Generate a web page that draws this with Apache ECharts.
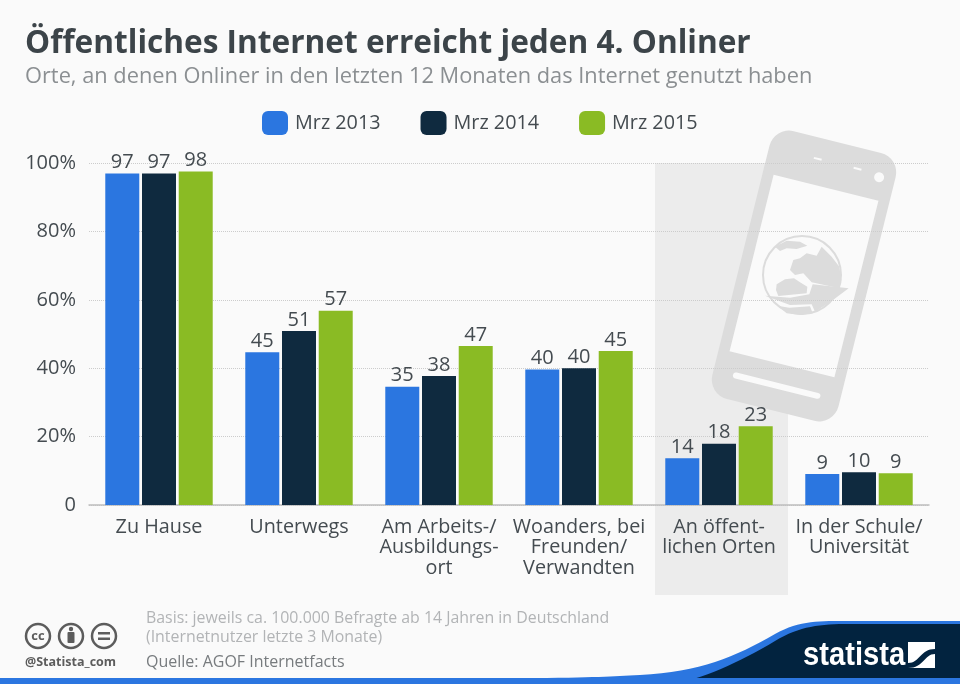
<!DOCTYPE html>
<html>
<head>
<meta charset="utf-8">
<script src="https://cdn.jsdelivr.net/npm/echarts@6/dist/echarts.min.js"></script>
<style>
html,body{margin:0;padding:0;background:#fafafa;}
#chart{width:960px;height:684px;}
</style>
</head>
<body>
<div id="chart"></div>
<script>
const categories=['Zu Hause','Unterwegs','Am Arbeits-/\nAusbildungs-\nort','Woanders, bei\nFreunden/\nVerwandten','An öffent-\nlichen Orten','In der Schule/\nUniversität'];
const yTicks=[0,20,40,60,80,100];
const legendNames=['Mrz 2013','Mrz 2014','Mrz 2015'];
const values2013=[96.9,44.7,34.6,39.6,13.7,9.1];
const values2014=[96.9,50.9,37.7,40,17.9,9.6];
const values2015=[97.5,56.8,46.5,45,23,9.3];
const colors=['#2b76e0','#0f2a3f','#8abb24'];
const textColor='#444b50';
const FONT='"Open Sans"';

const chart=echarts.init(document.getElementById('chart'));

function makeSeries(name,data,color){
	return {
		name:name,
		type:'bar',
		data:data,
		barWidth:34,
		barGap:'8%',
		itemStyle:{color:color},
		label:{
			show:true,
			position:'top',
			distance:1,
			fontFamily:FONT,
			fontSize:20,
			color:textColor,
			formatter:(p)=>Math.round(p.value)
		}
	}
}

function txt(x,y,text,size,color,weight){
	return {type:'text',x:x,y:y,style:{text:text,fontFamily:FONT,fontSize:size,fill:color,fontWeight:weight||'normal'}}
}

// samples a run of cubic curves to polygon points, graphic has no path type
function curve(start,segs){
	let pts=[start],p=start;
	segs.forEach((s)=>{
		for(let i=1;i<=16;i++){
			let t=i/16,u=1-t;
			pts.push([
				u*u*u*p[0]+3*u*u*t*s[0]+3*u*t*t*s[2]+t*t*t*s[4],
				u*u*u*p[1]+3*u*u*t*s[1]+3*u*t*t*s[3]+t*t*t*s[5]
			]);
		}
		p=[s[4],s[5]];
	});
	return pts;
}

function poly(points,fill){
	return {type:'polygon',z:-1,shape:{points:points},style:{fill:fill}}
}

// phone and globe behind the grid lines
const phone={
	type:'group',x:804,y:276,rotation:-14*Math.PI/180,z:-1,
	children:[
		{type:'rect',z:-1,shape:{x:-65,y:-138,width:130,height:276,r:20},style:{fill:'#dcdcdc'}},
		{type:'rect',z:-1,shape:{x:-54,y:-91,width:108,height:182},style:{fill:'#fafafa'}},
		{type:'rect',z:-1,shape:{x:-45,y:110,width:90,height:6,r:3},style:{fill:'#fafafa'}},
		{type:'circle',z:-1,shape:{cx:49,cy:-114,r:5},style:{fill:'#fafafa'}},
		{type:'rect',z:-1,shape:{x:22,y:-118,width:8,height:2},style:{fill:'#fafafa'}},
		{type:'rect',z:-1,shape:{x:-19,y:-118,width:8,height:2},style:{fill:'#fafafa'}}
	]
};
// globe shapes are in 3x crop units
const globe={
	type:'group',x:750,y:225,scaleX:1/3,scaleY:1/3,z:-1,
	children:[
		{type:'circle',z:-1,shape:{cx:156,cy:150,r:117},style:{fill:'#fafafa',stroke:'#dcdcdc',lineWidth:6}},
		poly([[75,65],[110,47],[150,50],[172,62],[140,72],[110,70],[90,78]],'#dcdcdc'),
		poly([[120,135],[130,105],[150,100],[170,85],[200,92],[215,65],[245,95],[268,125],[274,165],[268,190],[185,172],[160,145],[135,150]],'#dcdcdc'),
		poly([[80,178],[105,163],[132,160],[150,172],[172,185],[170,205],[85,213],[78,195]],'#dcdcdc'),
		poly([[45,212],[120,218],[178,208],[188,178],[296,190],[245,228],[195,260],[185,238],[120,240]],'#dcdcdc'),
		poly([[82,242],[118,248],[180,244],[188,265],[150,270],[110,265]],'#dcdcdc')
	]
};

// footer wave and logo
const footer=[
	{type:'rect',shape:{x:0,y:678,width:960,height:6},style:{fill:'#2b76e0'}},
	poly(curve([520,678],[[600,678,610,676,640,675],[700,672,735,657,775,634],[800,620,820,621,850,621]]).concat([[960,621],[960,684],[520,684]]),'#2b76e0'),
	poly(curve([672,684],[[700,680,740,662,775,641],[800,626,820,624,850,624]]).concat([[960,624],[960,684]]),'#02233f'),
	{type:'text',x:803,y:639,scaleX:0.885,style:{text:'statista',fontFamily:'"Liberation Sans"',fontSize:33,fontWeight:'bold',fill:'#fff'}},
	poly([[908,642],[935,642],[935,668],[908,668]],'#fff'),
	poly(curve([908,663],[[920,663,920,649,935,649]]).concat(curve([935,654],[[924,654,924,668,908,668]])),'#02233f')
];

// cc badges
const badges=[
	{type:'circle',shape:{cx:38,cy:636,r:12},style:{fill:'#fafafa',stroke:'#5c5c5c',lineWidth:2.5}},
	{type:'circle',shape:{cx:71,cy:636,r:12},style:{fill:'#fafafa',stroke:'#5c5c5c',lineWidth:2.5}},
	{type:'circle',shape:{cx:104,cy:636,r:12},style:{fill:'#fafafa',stroke:'#5c5c5c',lineWidth:2.5}},
	{type:'text',x:38,y:636,style:{text:'cc',fontFamily:FONT,fontWeight:'bold',fontSize:13,fill:'#5c5c5c',align:'center',verticalAlign:'middle'}},
	{type:'circle',shape:{cx:71,cy:629,r:2.2},style:{fill:'#5c5c5c'}},
	{type:'rect',shape:{x:67.5,y:632,width:7,height:11,r:1},style:{fill:'#5c5c5c'}},
	{type:'rect',shape:{x:98,y:632,width:12,height:2.5},style:{fill:'#5c5c5c'}},
	{type:'rect',shape:{x:98,y:637.5,width:12,height:2.5},style:{fill:'#5c5c5c'}},
	txt(25,656,'@Statista_com',12.5,'#5c5c5c','bold')
];

const option={
	backgroundColor:'#fafafa',
	animation:false,
	textStyle:{fontFamily:FONT},
	grid:{left:89,right:31,top:163,height:342,containLabel:false},
	legend:{
		data:legendNames,
		left:257,
		top:106,
		icon:'roundRect',
		itemWidth:26,
		itemHeight:24,
		itemGap:40,
		textStyle:{fontFamily:FONT,fontSize:19.8,color:textColor,padding:[0,0,0,2]}
	},
	xAxis:{
		type:'category',
		data:categories,
		axisTick:{show:false},
		axisLine:{show:true,lineStyle:{color:'#bdbdbd',width:1.5}},
		axisLabel:{fontFamily:FONT,fontSize:19.8,lineHeight:20.5,color:textColor,margin:12,interval:0}
	},
	yAxis:{
		type:'value',
		min:0,
		max:100,
		interval:20,
		axisLine:{show:false},
		axisTick:{show:false},
		axisLabel:{
			fontFamily:FONT,fontSize:20,color:textColor,margin:13,
			formatter:(v)=>yTicks.indexOf(v)==0?'0':v+'%'
		},
		splitLine:{lineStyle:{color:'#cccccc',type:'dotted'}}
	},
	series:[
		makeSeries(legendNames[0],values2013,colors[0]),
		makeSeries(legendNames[1],values2014,colors[1]),
		makeSeries(legendNames[2],values2015,colors[2])
	],
	graphic:[
		{type:'rect',z:-2,shape:{x:655,y:163,width:133,height:432},style:{fill:'#ececec'}},
		phone,
		globe,
		txt(25,28,'Öffentliches Internet erreicht jeden 4. Onliner',31.6,'#3c4449','bold'),
		txt(25,66,'Orte, an denen Onliner in den letzten 12 Monaten das Internet genutzt haben',21.8,'#8b8f92'),
		txt(146,610,'Basis: jeweils ca. 100.000 Befragte ab 14 Jahren in Deutschland',15.9,'#b2b4b6'),
		txt(146,629,'(Internetnutzer letzte 3 Monate)',15.9,'#b2b4b6'),
		txt(146,654,'Quelle: AGOF Internetfacts',16,'#777b7e'),
		...badges,
		...footer
	]
};
chart.setOption(option);
</script>
</body>
</html>
